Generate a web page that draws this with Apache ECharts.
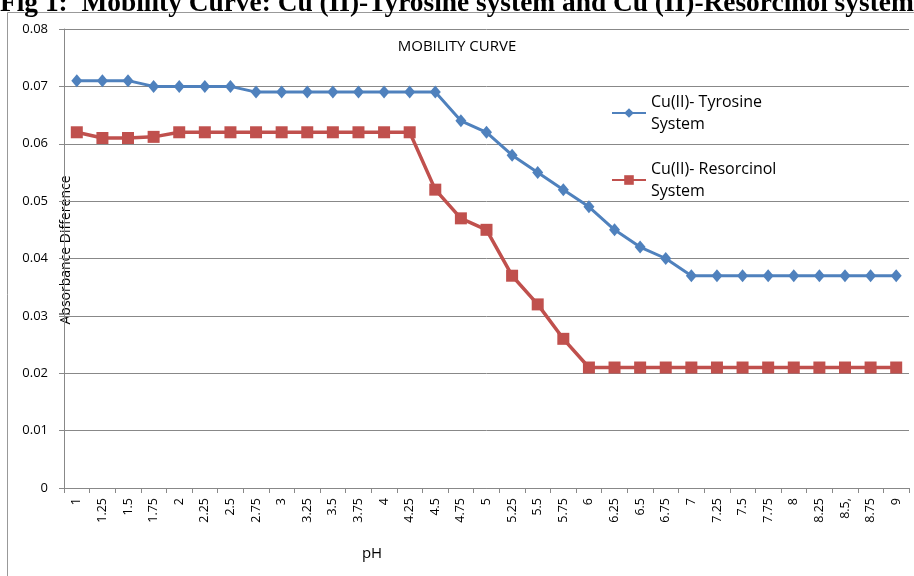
<!DOCTYPE html>
<html lang="en">
<head>
    <meta charset="UTF-8">
    <title>Mobility Curve</title>
    <script src="https://cdn.jsdelivr.net/npm/echarts@6/dist/echarts.min.js"></script>
    <style>
        body { margin: 0; background: #fff; }
        #main { width: 914px; height: 576px; }
    </style>
</head>
<body>
<div id="main"></div>
<script type="text/javascript">
    // pH values on the x axis (the "8.5," typo is in the original)
    var phLabels = ['1', '1.25', '1.5', '1.75', '2', '2.25', '2.5', '2.75', '3', '3.25', '3.5', '3.75',
        '4', '4.25', '4.5', '4.75', '5', '5.25', '5.5', '5.75', '6', '6.25', '6.5', '6.75',
        '7', '7.25', '7.5', '7.75', '8', '8.25', '8.5,', '8.75', '9'];
    var tyrosine = [0.071, 0.071, 0.071, 0.070, 0.070, 0.070, 0.070, 0.069, 0.069, 0.069, 0.069, 0.069,
        0.069, 0.069, 0.069, 0.064, 0.062, 0.058, 0.055, 0.052, 0.049, 0.045, 0.042, 0.040,
        0.037, 0.037, 0.037, 0.037, 0.037, 0.037, 0.037, 0.037, 0.037];
    var resorcinol = [0.062, 0.061, 0.061, 0.0612, 0.062, 0.062, 0.062, 0.062, 0.062, 0.062, 0.062, 0.062,
        0.062, 0.062, 0.052, 0.047, 0.045, 0.037, 0.032, 0.026, 0.021, 0.021, 0.021, 0.021,
        0.021, 0.021, 0.021, 0.021, 0.021, 0.021, 0.021, 0.021, 0.021];
    var seriesNames = ['Cu(II)- Tyrosine System', 'Cu(II)- Resorcinol System'];

    var myChart = echarts.init(document.getElementById('main'));
    var font = '"Open Sans", "DejaVu Sans", sans-serif';

    var option = {
        animation: false,
        backgroundColor: '#fff',
        title: {
            text: 'MOBILITY CURVE',
            left: 'center',
            top: 34,
            textStyle: { fontSize: 15, fontWeight: 'normal', color: '#000', fontFamily: font }
        },
        legend: {
            orient: 'vertical',
            left: 606,
            top: 86,
            itemWidth: 34,
            itemHeight: 12,
            itemGap: 23,
            data: seriesNames,
            formatter: function (name) {
                return name.replace(' System', '\nSystem');
            },
            textStyle: { fontSize: 16, lineHeight: 22, color: '#000', fontFamily: font }
        },
        graphic: [{
            // outer chart border
            type: 'rect',
            shape: { x: 7.5, y: 12.5, width: 940, height: 600 },
            style: { fill: 'none', stroke: '#999', lineWidth: 1 },
            silent: true
        }, {
            // figure caption, cut off at the top of the picture
            type: 'text',
            style: {
                x: 0,
                y: -10,
                text: 'Fig 1:  Mobility Curve: Cu (II)-Tyrosine system and Cu (II)-Resorcinol system',
                font: 'bold 27.4px "Liberation Serif", "Times New Roman", serif',
                textBaseline: 'top',
                fill: '#000'
            }
        }, {
            type: 'text',
            rotation: Math.PI / 2,
            x: 59,
            y: 250,
            style: {
                text: 'Absorbance Difference',
                font: '14px "Open Sans", sans-serif',
                textAlign: 'center',
                textBaseline: 'middle',
                fill: '#000'
            }
        }, {
            type: 'text',
            x: 372,
            y: 546,
            style: {
                text: 'pH',
                font: '15px "Open Sans", sans-serif',
                textAlign: 'center',
                textBaseline: 'middle',
                fill: '#000'
            }
        }],
        grid: { left: 64, right: 5, top: 29, bottom: 88 },
        xAxis: {
            type: 'category',
            data: phLabels,
            axisLine: { lineStyle: { color: '#888' } },
            axisTick: { show: true, alignWithLabel: false, length: 5, lineStyle: { color: '#888' } },
            axisLabel: { rotate: 90, fontSize: 12.5, color: '#000', fontFamily: font, interval: 0, margin: 10 }
        },
        yAxis: {
            type: 'value',
            min: 0,
            max: 0.08,
            interval: 0.01,
            axisLine: { show: true, lineStyle: { color: '#888' } },
            axisTick: { show: true, length: 5, lineStyle: { color: '#888' } },
            axisLabel: {
                fontSize: 13, color: '#000', fontFamily: font, margin: 16,
                formatter: function (v) { return v === 0 ? '0' : v.toFixed(2); }
            },
            splitLine: { lineStyle: { color: '#888', width: 1 } }
        },
        series: [{
            name: seriesNames[0],
            type: 'line',
            data: tyrosine,
            symbol: 'diamond',
            symbolSize: [11, 13],
            itemStyle: { color: '#4F81BD' },
            lineStyle: { width: 3, color: '#4F81BD' }
        }, {
            name: seriesNames[1],
            type: 'line',
            data: resorcinol,
            symbol: 'rect',
            symbolSize: 12,
            itemStyle: { color: '#C0504D' },
            lineStyle: { width: 3.5, color: '#C0504D' }
        }]
    };

    myChart.setOption(option);
</script>
</body>
</html>
